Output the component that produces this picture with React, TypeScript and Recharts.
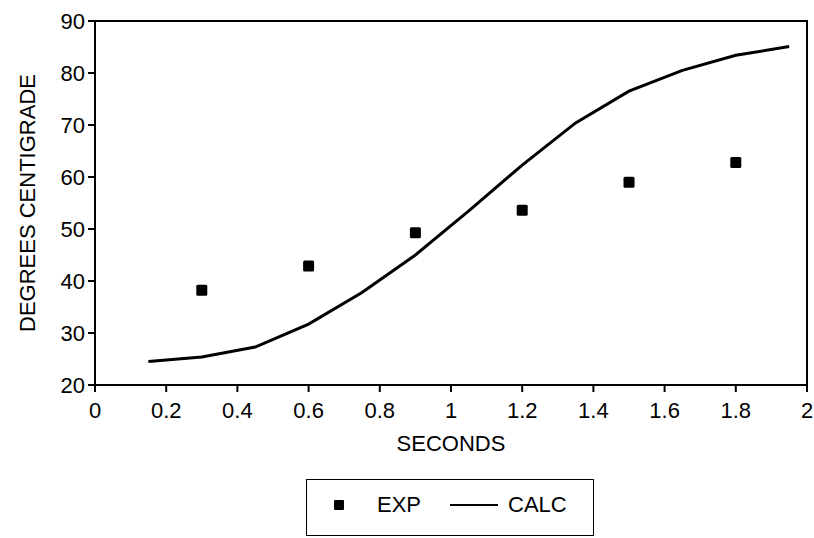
import {
  ComposedChart,
  Line,
  Scatter,
  XAxis,
  YAxis,
  Legend,
  ReferenceArea,
} from 'recharts'

// ── Data ─────────────────────────────────────────────────────────────

// Measured temperatures (EXP)
const EXP_SECONDS = [0.3, 0.6, 0.9, 1.2, 1.5, 1.8]
const EXP_DEGREES = [38.2, 42.9, 49.3, 53.6, 59.0, 62.8]

// Calculated curve (CALC)
const CALC_SECONDS = [0.15, 0.3, 0.45, 0.6, 0.75, 0.9, 1.05, 1.2, 1.35, 1.5, 1.65, 1.8, 1.95]
const CALC_DEGREES = [24.5, 25.4, 27.3, 31.7, 37.8, 45.0, 53.5, 62.3, 70.4, 76.5, 80.5, 83.4, 85.1]

const X_TICKS = [0, 0.2, 0.4, 0.6, 0.8, 1, 1.2, 1.4, 1.6, 1.8, 2]
const Y_TICKS = [20, 30, 40, 50, 60, 70, 80, 90]

const expData = EXP_SECONDS.map((t, i) => ({ t, deg: EXP_DEGREES[i] }))
const calcData = CALC_SECONDS.map((t, i) => ({ t, deg: CALC_DEGREES[i] }))

const FONT = '"Liberation Sans", Arial, sans-serif'
const INK = '#000'
const TEXT_SIZE = 22

// ── Marker / legend ──────────────────────────────────────────────────

function SquareDot(props: { cx?: number; cy?: number }) {
  const { cx = 0, cy = 0 } = props
  return <rect x={cx - 5.5} y={cy - 5.5} width={11} height={11} rx={1.5} fill={INK} />
}

function BoxLegend() {
  return (
    <div style={{
      boxSizing: 'border-box',
      width: 288,
      height: 57,
      border: `1.5px solid ${INK}`,
      position: 'relative',
      fontFamily: FONT,
      fontSize: TEXT_SIZE,
      color: INK,
    }}>
      <div style={{ position: 'absolute', left: 27, top: 20, width: 10, height: 10, background: INK, borderRadius: 1 }} />
      <span style={{ position: 'absolute', left: 70, top: 12 }}>EXP</span>
      <div style={{ position: 'absolute', left: 143, top: 24, width: 48, height: 2, background: INK }} />
      <span style={{ position: 'absolute', left: 201, top: 12 }}>CALC</span>
    </div>
  )
}

// ── Chart ────────────────────────────────────────────────────────────

export default function App() {
  const tick = { fill: INK, fontSize: TEXT_SIZE, fontFamily: FONT }

  return (
    <div style={{ position: 'absolute', left: 0, top: 0, background: '#fff' }}>
      <ComposedChart
        width={814}
        height={538}
        margin={{ top: 21, right: 7, left: 35, bottom: 36 }}
        style={{ fontFamily: FONT }}
      >
        <XAxis
          type="number"
          dataKey="t"
          domain={[0, 2]}
          ticks={X_TICKS}
          interval={0}
          height={60}
          stroke={INK}
          strokeWidth={2}
          tickSize={7}
          tickMargin={10}
          tick={tick}
          tickFormatter={(v: number) => String(Number(v.toFixed(1)))}
          label={{ value: 'SECONDS', position: 'insideBottom', offset: -6, fill: INK, fontSize: TEXT_SIZE, fontFamily: FONT }}
        />
        <YAxis
          type="number"
          dataKey="deg"
          domain={[20, 90]}
          ticks={Y_TICKS}
          interval={0}
          width={60}
          stroke={INK}
          strokeWidth={2}
          tickSize={7}
          tickMargin={3}
          tick={tick}
          label={{ value: 'DEGREES CENTIGRADE', angle: -90, position: 'insideLeft', offset: -8, fill: INK, fontSize: TEXT_SIZE, fontFamily: FONT, style: { textAnchor: 'middle' } }}
        />
        {/* frame around the plot area */}
        <ReferenceArea x1={0} x2={2} y1={20} y2={90} fill="none" stroke={INK} strokeWidth={2} ifOverflow="visible" />
        <Legend
          content={<BoxLegend />}
          wrapperStyle={{ position: 'absolute', left: 306, top: 479, width: 288, height: 57 }}
        />
        <Line
          data={calcData}
          dataKey="deg"
          name="CALC"
          type="linear"
          stroke={INK}
          strokeWidth={3}
          dot={false}
          activeDot={false}
          legendType="line"
          isAnimationActive={false}
        />
        <Scatter
          data={expData}
          dataKey="deg"
          name="EXP"
          fill={INK}
          shape={<SquareDot />}
          legendType="square"
          isAnimationActive={false}
        />
      </ComposedChart>
    </div>
  )
}
